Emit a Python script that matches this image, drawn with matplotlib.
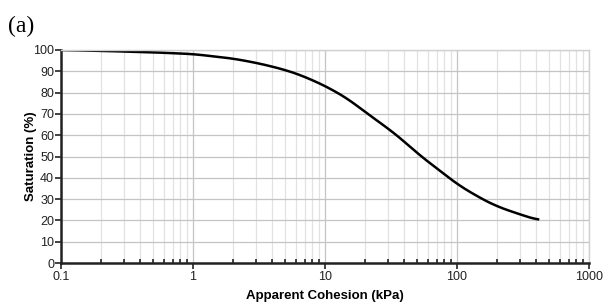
import numpy as np
import matplotlib
matplotlib.use("Agg")
import matplotlib.pyplot as plt
from matplotlib.ticker import LogLocator, FixedLocator, NullFormatter

# values
cohesion = [0.1, 0.2, 0.5, 1, 2, 3, 4, 5, 6.5, 10, 15, 20, 30, 40, 50, 70, 88, 100, 150, 200, 300, 420]
saturation = [100, 99.6, 98.9, 98.1, 96.0, 94.0, 92.2, 90.6, 88.3, 83.2, 77.0, 71.0, 63.2, 57.0, 51.5, 44.5, 39.8, 37.0, 30.5, 26.6, 22.8, 20.0]

x_ticks = [0.1, 1, 10, 100, 1000]
x_tick_labels = ["0.1", "1", "10", "100", "1000"]
y_ticks = list(range(0, 101, 10))

plt.rcParams['font.family'] = ['Liberation Sans', 'DejaVu Sans']

fig = plt.figure(figsize=(6.11, 3.08), dpi=100)
ax = fig.add_axes([61 / 611, 1 - 263 / 308, 528 / 611, 213 / 308])

# smooth the curve in log space
lx = np.log10(cohesion)
xs = np.linspace(lx[0], lx[-1], 400)
ys = np.interp(xs, lx, saturation)
k = 9
ys_s = np.convolve(np.pad(ys, k, mode='edge'), np.ones(2 * k + 1) / (2 * k + 1), mode='same')[k:-k]
ax.plot(10 ** xs, ys_s, color='black', lw=1.8, solid_capstyle='butt')

ax.set_xscale('log')
ax.set_xlim(0.1, 1000)
ax.set_ylim(0, 100)
ax.xaxis.set_major_locator(FixedLocator(x_ticks))
ax.set_xticklabels(x_tick_labels)
ax.xaxis.set_minor_locator(LogLocator(base=10, subs=np.arange(2, 10)))
ax.xaxis.set_minor_formatter(NullFormatter())
ax.set_yticks(y_ticks)

ax.grid(which='major', color='#c4c4c4', lw=0.9)
ax.grid(which='minor', axis='x', color='#e2e2e2', lw=0.9)
ax.set_axisbelow(True)

for s in ['left', 'bottom']:
    ax.spines[s].set_color('#222222')
    ax.spines[s].set_linewidth(1.8)
for s in ['top', 'right']:
    ax.spines[s].set_color('#d0d0d0')
    ax.spines[s].set_linewidth(1.0)

ax.tick_params(axis='both', which='major', direction='out', length=4, width=1.2,
               labelsize=9, colors='#222222', pad=1.5)
ax.tick_params(axis='x', which='minor', direction='in', length=3, width=1.2, color='#222222')
ax.tick_params(axis='y', which='major', pad=1)

ax.set_xlabel('Apparent Cohesion (kPa)', fontsize=9.5, fontweight='bold', labelpad=5)
ax.set_ylabel('Saturation (%)', fontsize=9.5, fontweight='bold')
ax.yaxis.set_label_coords(-0.046, 0.5)

fig.text(8 / 611, 1 - 32 / 308, '(a)', fontsize=17, family=['Liberation Serif', 'DejaVu Serif'])

fig.savefig('out.png', dpi=100)
